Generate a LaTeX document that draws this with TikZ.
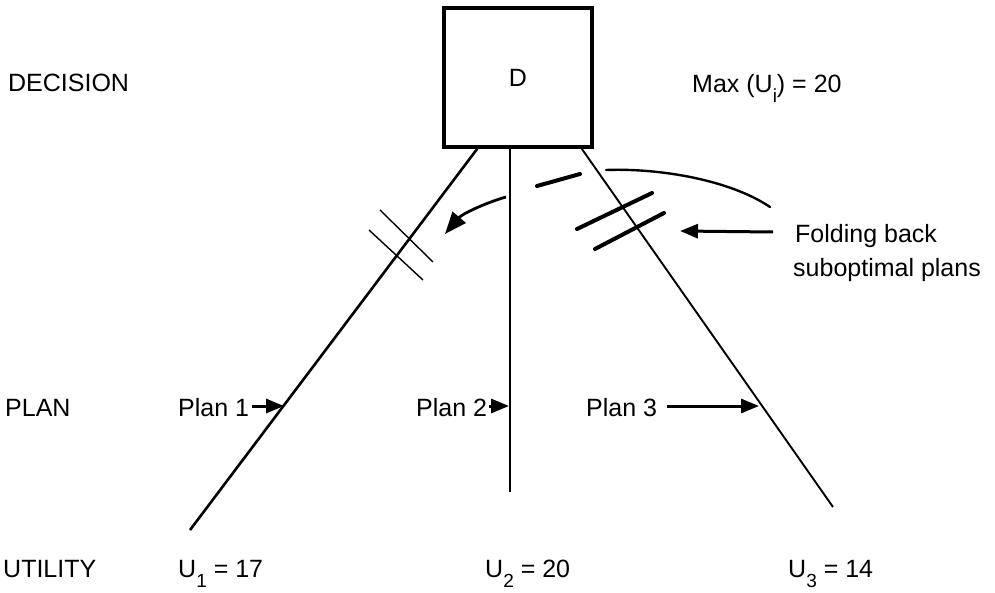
\documentclass[tikz,border=0pt]{standalone}
\usepackage{fontspec}
\setmainfont{Liberation Sans}
\usetikzlibrary{arrows.meta,calc}
\newcommand{\sbs}[1]{\raisebox{-10pt}{\fontsize{19}{19}\selectfont #1}}
\begin{document}
\begin{tikzpicture}[x=1pt,y=-1pt,
  lbl/.style={font=\fontsize{25}{30}\selectfont, inner sep=0pt, anchor=base west},
  branch/.style={line width=2.6pt},
  pointer/.style={line width=3pt, -{Triangle[length=18pt,width=14pt]}},
  hashthin/.style={line width=1.4pt},
  hashthick/.style={line width=4pt, line cap=round},
  sweep/.style={line width=2.4pt, line cap=round}
]
\useasboundingbox (0,0) rectangle (995,593);
\fill[white] (0,0) rectangle (995,593);

% decision box
\node[draw, line width=3.5pt, minimum width=148pt, minimum height=139pt,
      inner sep=0pt, font=\fontsize{25}{30}\selectfont] (box) at (518,77.5) {\raisebox{-7pt}{D}};

% row labels
\node[lbl] (decision) at (8,92) {DECISION};
\node[lbl] (plan) at (5,416) {PLAN};
\node[lbl] (utility) at (3,577) {UTILITY};

\node[lbl] (max) at (692,93) {Max (U\sbs{i}) = 20};
\node[lbl] (fold1) at (795,243) {Folding back};
\node[lbl] (fold2) at (793,277) {suboptimal plans};

% branch end points
\coordinate (t1) at ($(box.south west)+(35,0)$);
\coordinate (t2) at ($(box.south)+(-8,0)$);
\coordinate (t3) at ($(box.south east)+(-12,0)$);
\coordinate (e1) at (190,530);
\coordinate (e2) at (510,492);
\coordinate (e3) at (833,507);
\draw[branch] (t1) -- (e1);
\draw[branch] (t2) -- (e2);
\draw[line width=1.9pt] (t3) -- (e3);

% plan labels and arrows
\node[lbl] (plan1) at (178,416) {Plan 1};
\node[lbl] (plan2) at (416,416) {Plan 2};
\node[lbl] (plan3) at (586,416) {Plan 3};
\coordinate (p1) at (284,406);
\coordinate (p2) at (509,406);
\coordinate (p3) at (759,406);
\draw[pointer] ($(plan1.base east)+(3,-10)$) -- (p1);
\draw[pointer] ($(plan2.base east)+(2,-10)$) -- (p2);
\draw[pointer] ($(plan3.base east)+(10,-10)$) -- (p3);

% utilities
\node[lbl] (u1) at (178,577) {U\sbs{1} = 17};
\node[lbl] (u2) at (485,577) {U\sbs{2} = 20};
\node[lbl] (u3) at (788,577) {U\sbs{3} = 14};

% folding back marks on plan 1
\draw[hashthin] (380,210) -- (433,262);
\draw[hashthin] (369,230) -- (423,280);
% folding back marks on plan 3
\draw[hashthick] (577,229) -- (652,193);
\draw[hashthick] (595,249) -- (664,213);

% sweeping strokes
\draw[hashthick] (537,186) -- (580,174);
\draw[sweep] (606,170) .. controls (660,168) and (730,180) .. (770,207);
\draw[line width=2.8pt, -{Triangle[length=22pt,width=17pt]}]
  (506,197) .. controls (485,203) and (462,214) .. (445,234);

% pointer to the marks
\coordinate (foldtip) at (680,231);
\draw[pointer] (773,232) -- (foldtip);
\end{tikzpicture}
\end{document}
